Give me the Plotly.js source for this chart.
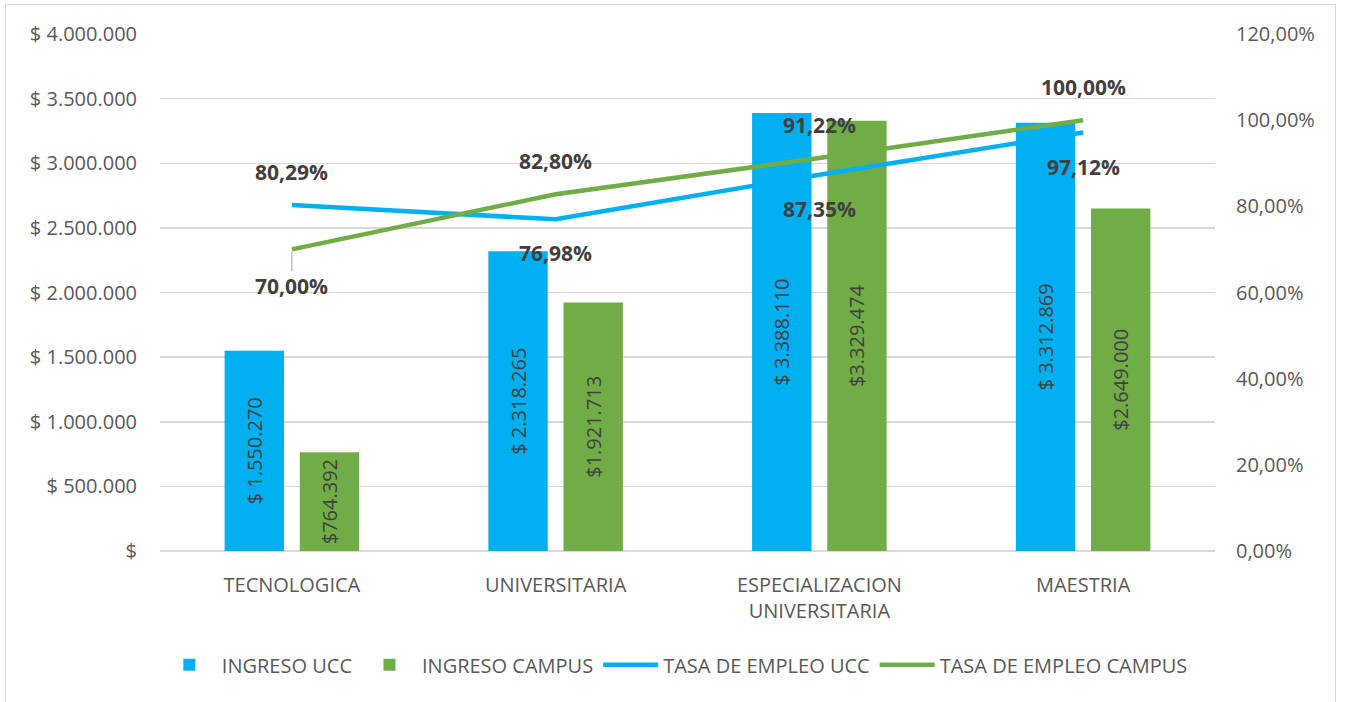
<!DOCTYPE html>
<html><head><meta charset="utf-8">
<script src="https://cdn.plot.ly/plotly-3.0.1.min.js"></script>
<style>
body{margin:0;background:#fff}
#wrap{position:relative;width:1346px;height:702px;overflow:hidden}
#chart{width:1346px;height:702px}
#frame{position:absolute;left:5px;top:4px;width:1331px;height:710px;border:1px solid #d9d9d9;box-sizing:border-box;pointer-events:none}
</style>
</head><body><div id="wrap"><div id="chart"></div><div id="frame"></div></div>
<script>
const categories = ['TECNOLOGICA', 'UNIVERSITARIA', 'ESPECIALIZACION<br>UNIVERSITARIA', 'MAESTRIA'];
const ingresoUCC = [1550270, 2318265, 3388110, 3312869];
const ingresoCampus = [764392, 1921713, 3329474, 2649000];
const tasaUCC = [0.8029, 0.7698, 0.8735, 0.9712];
const tasaCampus = [0.7000, 0.8280, 0.9122, 1.0000];
const leftTickVals = [0, 500000, 1000000, 1500000, 2000000, 2500000, 3000000, 3500000, 4000000];
const rightTickVals = [0, 0.2, 0.4, 0.6, 0.8, 1.0, 1.2];
const tasaUCCPos = ['above', 'below', 'below', 'below'];
const tasaCampusPos = ['below', 'above', 'above', 'above'];

const FONT = 'Open Sans, Noto Sans, sans-serif';
const BLUE = '#00B0F0', GREEN = '#70AD47';
const TXT = '#595959', DARK = '#404040';
const FS = 20;

function money(v) {
  if (v === 0) return '$';
  return '$ ' + v.toString().replace(/\B(?=(\d{3})+(?!\d))/g, '.');
}
function pct(v) { return (v * 100).toFixed(2).replace('.', ',') + '%'; }

const traces = [
  {type: 'bar', name: 'INGRESO UCC', x: categories, y: ingresoUCC, marker: {color: BLUE},
   texttemplate: '$ %{y:,.0f}', textposition: 'inside', insidetextanchor: 'middle', textangle: -90,
   constraintext: 'none', textfont: {family: FONT, size: FS, color: DARK}, hoverinfo: 'skip'},
  {type: 'bar', name: 'INGRESO CAMPUS', x: categories, y: ingresoCampus, marker: {color: GREEN},
   texttemplate: '$%{y:,.0f}', textposition: 'inside', insidetextanchor: 'middle', textangle: -90,
   constraintext: 'none', textfont: {family: FONT, size: FS, color: DARK}, hoverinfo: 'skip'},
  {type: 'scatter', mode: 'lines', name: 'TASA DE EMPLEO UCC', x: categories, y: tasaUCC, yaxis: 'y2',
   line: {color: BLUE, width: 4.5}, hoverinfo: 'skip'},
  {type: 'scatter', mode: 'lines', name: 'TASA DE EMPLEO CAMPUS', x: categories, y: tasaCampus, yaxis: 'y2',
   line: {color: GREEN, width: 4.5}, hoverinfo: 'skip'}
];

const annotations = [];
function addLabels(vals, pos, leaderIndex) {
  vals.forEach((v, i) => {
    const a = {x: categories[i], y: v, xref: 'x', yref: 'y2', text: '<b>' + pct(v) + '</b>',
      font: {family: FONT, size: 21, color: DARK}, xanchor: 'center', yanchor: 'middle'};
    if (i === leaderIndex) {
      a.showarrow = true; a.arrowhead = 0; a.arrowwidth = 1; a.arrowcolor = '#a6a6a6';
      a.ax = 0; a.ay = 37; a.standoff = 2;
    } else {
      a.showarrow = false;
      a.yshift = pos[i] === 'above' ? 33 : -34;
    }
    annotations.push(a);
  });
}
addLabels(tasaUCC, tasaUCCPos, -1);
addLabels(tasaCampus, tasaCampusPos, 0);

const layout = {
  width: 1346, height: 702,
  margin: {l: 160, r: 131, t: 34, b: 151},
  paper_bgcolor: '#fff', plot_bgcolor: '#fff',
  separators: ',.',
  font: {family: FONT, size: FS, color: TXT},
  barmode: 'group', bargap: 0.43, bargroupgap: 0.21,
  showlegend: true,
  legend: {orientation: 'h', x: 0.488, xanchor: 'center', y: -0.22, yanchor: 'middle',
    font: {family: FONT, size: FS, color: TXT}, traceorder: 'normal', itemwidth: 55},
  xaxis: {type: 'category', showgrid: false, showline: false, zeroline: false, ticks: 'outside', ticklen: 16,
    tickcolor: 'rgba(0,0,0,0)', tickfont: {family: FONT, size: FS, color: TXT}, fixedrange: true},
  yaxis: {range: [0, 4000000], tickvals: leftTickVals, ticktext: leftTickVals.map(money),
    showgrid: true, gridcolor: '#d9d9d9', gridwidth: 1.5, zeroline: true, zerolinecolor: '#d9d9d9', zerolinewidth: 2,
    tickfont: {family: FONT, size: FS, color: TXT}, ticks: 'outside', ticklen: 18, tickcolor: 'rgba(0,0,0,0)', fixedrange: true},
  yaxis2: {range: [0, 1.2], overlaying: 'y', side: 'right', tickvals: rightTickVals, tickformat: '.2%',
    showgrid: false, zeroline: false, tickfont: {family: FONT, size: FS, color: TXT},
    ticks: 'outside', ticklen: 16, tickcolor: 'rgba(0,0,0,0)', fixedrange: true},
  annotations: annotations
};

Plotly.newPlot('chart', traces, layout, {displayModeBar: false, staticPlot: true});
</script>
</body></html>
